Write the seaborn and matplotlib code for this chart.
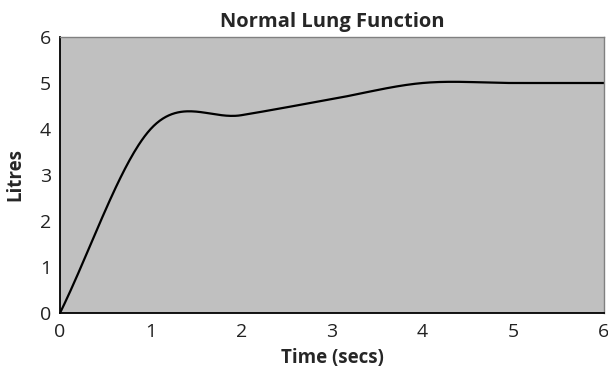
import numpy as np
import pandas as pd
import matplotlib
matplotlib.use("Agg")
import matplotlib.pyplot as plt
import seaborn as sns

time_secs = [0, 1, 2, 3, 4, 5, 6]
litres = [0.0, 4.0, 4.3, 4.65, 5.0, 5.0, 5.0]
x_ticks = [0, 1, 2, 3, 4, 5, 6]
y_ticks = [0, 1, 2, 3, 4, 5, 6]


def smooth_curve(xs, ys, n=60):
    # Catmull-Rom style smoothing (like a spreadsheet "smoothed line")
    xs = np.asarray(xs, float)
    ys = np.asarray(ys, float)
    px, py = [], []
    m = len(xs)
    for i in range(m - 1):
        i0 = max(i - 1, 0)
        i3 = min(i + 2, m - 1)
        mx1 = (xs[i + 1] - xs[i0]) / (2 if i > 0 else 1)
        my1 = (ys[i + 1] - ys[i0]) / (2 if i > 0 else 1)
        mx2 = (xs[i3] - xs[i]) / (2 if i + 2 < m else 1)
        my2 = (ys[i3] - ys[i]) / (2 if i + 2 < m else 1)
        t = np.linspace(0, 1, n, endpoint=(i == m - 2))
        h00 = 2 * t**3 - 3 * t**2 + 1
        h10 = t**3 - 2 * t**2 + t
        h01 = -2 * t**3 + 3 * t**2
        h11 = t**3 - t**2
        px.append(h00 * xs[i] + h10 * mx1 + h01 * xs[i + 1] + h11 * mx2)
        py.append(h00 * ys[i] + h10 * my1 + h01 * ys[i + 1] + h11 * my2)
    return np.concatenate(px), np.concatenate(py)


sx, sy = smooth_curve(time_secs, litres)
df = pd.DataFrame({"Time (secs)": sx, "Litres": sy})

sns.set_style("white")
plt.rcParams["font.family"] = ["Open Sans", "DejaVu Sans"]

fig = plt.figure(figsize=(6.08, 3.73), dpi=100)
ax = fig.add_axes([0.0987, 0.1609, 0.8947, 0.7399])
ax.set_facecolor("#C0C0C0")

sns.lineplot(data=df, x="Time (secs)", y="Litres", ax=ax, color="black",
             linewidth=1.6, sort=False, estimator=None)

ax.set_xlim(0, 6)
ax.set_ylim(0, 6)
ax.set_xticks(x_ticks)
ax.set_yticks(y_ticks)
ax.set_xticklabels([str(v) for v in x_ticks], fontsize=14, color="#222222")
ax.set_yticklabels([str(v) for v in y_ticks], fontsize=14, color="#222222")
ax.tick_params(axis="both", direction="inout", length=5, width=1.2, color="black")
ax.tick_params(axis="x", pad=5)
ax.tick_params(axis="y", pad=4)

for s in ["left", "bottom"]:
    ax.spines[s].set_color("black")
    ax.spines[s].set_linewidth(1.3)
for s in ["top", "right"]:
    ax.spines[s].set_color("#808080")
    ax.spines[s].set_linewidth(1.0)

ax.set_xlabel("Time (secs)", fontsize=13.5, fontweight="bold", labelpad=5)
ax.set_ylabel("Litres", fontsize=13.5, fontweight="bold", labelpad=10)
ax.set_title("Normal Lung Function", fontsize=14.5, fontweight="bold", pad=7)

fig.savefig("out.png", dpi=100)
